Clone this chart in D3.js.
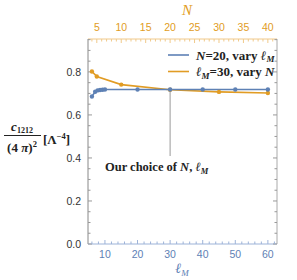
<!DOCTYPE html>
<html><head><meta charset="utf-8">
<script src="https://cdn.jsdelivr.net/npm/d3@7"></script>
<style>body{margin:0;background:#fff}</style>
</head><body>
<script>
// Data
const blueL = [6, 7, 7.75, 8.5, 9.25, 10, 20, 30, 40, 50, 60];
const blueV = [0.686, 0.708, 0.714, 0.716, 0.717, 0.718, 0.718, 0.718, 0.718, 0.718, 0.718];
const orangeN = [4, 5, 10, 20, 30, 40];
const orangeV = [0.802, 0.779, 0.741, 0.717, 0.707, 0.702];
const yTicks = [0.0, 0.2, 0.4, 0.6, 0.8];
const xTicks = [10, 20, 30, 40, 50, 60];
const nTicks = [5, 10, 15, 20, 25, 30, 35, 40];
const legendLabels = ["N=20, vary ℓ_M", "ℓ_M=30, vary N"];

const BLUE = "#5E81B5", ORANGE = "#E19C24";
const W = 297, H = 280;
const L = 88, R = 277, T = 39, B = 244;
const svg = d3.select("body").append("svg").attr("width", W).attr("height", H)
  .style("font-family", "'Liberation Sans', Arial, sans-serif");

const x = d3.scaleLinear().domain([4.8, 62.8]).range([L, R]);
const xN = d3.scaleLinear().domain([3.2, 41.87]).range([L, R]);
const y = d3.scaleLinear().domain([0, 0.953]).range([B, T]);

// Frame
svg.append("line").attr("x1", L).attr("x2", R).attr("y1", T).attr("y2", T).attr("stroke", "#f0c98a").attr("stroke-width", 1);
svg.append("line").attr("x1", R).attr("x2", R).attr("y1", T).attr("y2", B).attr("stroke", "#aaa").attr("stroke-width", 1);
svg.append("line").attr("x1", L).attr("x2", L).attr("y1", T).attr("y2", B).attr("stroke", "#888").attr("stroke-width", 1);
svg.append("line").attr("x1", L).attr("x2", R).attr("y1", B).attr("y2", B).attr("stroke", "#9db3d8").attr("stroke-width", 1);

// Ticks: left & right
const yMinor = d3.range(0, 0.951, 0.05);
yMinor.forEach(v => {
  const major = Math.abs(Math.round(v / 0.2) * 0.2 - v) < 1e-6;
  const len = major ? 4 : 2.5;
  svg.append("line").attr("x1", L).attr("x2", L + len).attr("y1", y(v)).attr("y2", y(v)).attr("stroke", "#999");
  svg.append("line").attr("x1", R).attr("x2", R - len).attr("y1", y(v)).attr("y2", y(v)).attr("stroke", "#999");
});
yTicks.forEach(v => {
  svg.append("text").attr("x", L - 7).attr("y", y(v)).attr("dy", "0.35em").attr("text-anchor", "end")
    .attr("font-size", 10.5).attr("fill", "#333").text(v.toFixed(1));
});
// bottom ticks
d3.range(6, 63, 2).forEach(v => {
  const major = v % 10 === 0;
  svg.append("line").attr("x1", x(v)).attr("x2", x(v)).attr("y1", B).attr("y2", B - (major ? 4 : 2.5)).attr("stroke", "#9db3d8");
});
xTicks.forEach(v => {
  svg.append("text").attr("x", x(v)).attr("y", 258).attr("text-anchor", "middle")
    .attr("font-size", 10.5).attr("fill", BLUE).text(v);
});
// top ticks
d3.range(4, 42, 1).forEach(v => {
  const major = v % 5 === 0;
  svg.append("line").attr("x1", xN(v)).attr("x2", xN(v)).attr("y1", T).attr("y2", T + (major ? 4 : 2.5)).attr("stroke", "#f0c98a");
});
nTicks.forEach(v => {
  svg.append("text").attr("x", xN(v)).attr("y", 31).attr("text-anchor", "middle")
    .attr("font-size", 10.5).attr("fill", ORANGE).text(v);
});

// Axis titles
const ser = "'Liberation Serif', serif";
svg.append("text").attr("x", 187).attr("y", 15).attr("text-anchor", "middle")
  .attr("font-family", ser).attr("font-style", "italic")
  .attr("font-size", 15).attr("fill", ORANGE).text("N");
const xl = svg.append("text").attr("x", 182).attr("y", 273).attr("text-anchor", "middle")
  .attr("font-family", ser).attr("font-style", "italic")
  .attr("font-size", 14).attr("fill", BLUE);
xl.append("tspan").text("ℓ");
xl.append("tspan").attr("font-size", 9).attr("dy", 3).text("M");

// Y label (fraction)
const num = svg.append("text").attr("x", 22).attr("y", 131).attr("text-anchor", "middle")
  .attr("font-family", ser).attr("font-weight", "bold").attr("font-size", 13).attr("fill", "#222");
num.append("tspan").attr("font-style", "italic").text("c");
num.append("tspan").attr("font-size", 8).attr("dy", 2).text("1212");
svg.append("line").attr("x1", 4).attr("x2", 41).attr("y1", 135.5).attr("y2", 135.5).attr("stroke", "#222").attr("stroke-width", 1);
const den = svg.append("text").attr("x", 22).attr("y", 152).attr("text-anchor", "middle")
  .attr("font-family", ser).attr("font-weight", "bold").attr("font-size", 13).attr("fill", "#222");
den.append("tspan").text("(4 ");
den.append("tspan").attr("font-style", "italic").text("π");
den.append("tspan").text(")");
den.append("tspan").attr("font-size", 8.5).attr("dy", -5).text("2");
const un = svg.append("text").attr("x", 43).attr("y", 144)
  .attr("font-family", ser).attr("font-weight", "bold").attr("font-size", 13).attr("fill", "#222");
un.append("tspan").text("[Λ");
un.append("tspan").attr("font-size", 8.5).attr("dy", -5).text("−4");
un.append("tspan").attr("dy", 5).text("]");

// Annotation
svg.append("line").attr("x1", x(30)).attr("x2", x(30)).attr("y1", y(0.717)).attr("y2", 156)
  .attr("stroke", "#aaa").attr("stroke-width", 1.2);
const ann = svg.append("text").attr("x", 105).attr("y", 171)
  .attr("font-family", ser).attr("font-weight", "bold").attr("font-size", 12.5).attr("fill", "#222");
ann.append("tspan").text("Our choice of ");
ann.append("tspan").attr("font-style", "italic").text("N");
ann.append("tspan").text(", ");
ann.append("tspan").attr("font-style", "italic").text("ℓ");
ann.append("tspan").attr("font-style", "italic").attr("font-size", 8.5).attr("dy", 2.5).text("M");

// Series
const lineB = d3.line().x((d, i) => x(blueL[i])).y(d => y(d));
const lineO = d3.line().x((d, i) => xN(orangeN[i])).y(d => y(d));
svg.append("path").attr("d", lineO(orangeV)).attr("fill", "none").attr("stroke", ORANGE).attr("stroke-width", 1.6);
svg.append("path").attr("d", lineB(blueV)).attr("fill", "none").attr("stroke", BLUE).attr("stroke-width", 1.6);
svg.selectAll(".po").data(orangeV).enter().append("circle")
  .attr("cx", (d, i) => xN(orangeN[i])).attr("cy", d => y(d)).attr("r", 2.2).attr("fill", ORANGE);
svg.selectAll(".pb").data(blueV).enter().append("circle")
  .attr("cx", (d, i) => x(blueL[i])).attr("cy", d => y(d)).attr("r", 2.2).attr("fill", BLUE);

// Legend
const cols = [BLUE, ORANGE];
legendLabels.forEach((lab, i) => {
  const ly = 55 + i * 16.5;
  svg.append("line").attr("x1", 168).attr("x2", 189).attr("y1", ly).attr("y2", ly)
    .attr("stroke", cols[i]).attr("stroke-width", 1.6);
  const t = svg.append("text").attr("x", 196).attr("y", ly + 4.5)
    .attr("font-family", ser).attr("font-weight", "bold").attr("font-size", 13).attr("fill", "#222");
  if (i === 0) {
    t.append("tspan").attr("font-style", "italic").text("N");
    t.append("tspan").text("=20, vary ");
    t.append("tspan").attr("font-style", "italic").text("ℓ");
    t.append("tspan").attr("font-style", "italic").attr("font-size", 9).attr("dy", 2.5).text("M");
  } else {
    t.append("tspan").attr("font-style", "italic").text("ℓ");
    t.append("tspan").attr("font-style", "italic").attr("font-size", 9).attr("dy", 2.5).text("M");
    t.append("tspan").attr("dy", -2.5).text("=30, vary ");
    t.append("tspan").attr("font-style", "italic").text("N");
  }
});
</script>
</body></html>
